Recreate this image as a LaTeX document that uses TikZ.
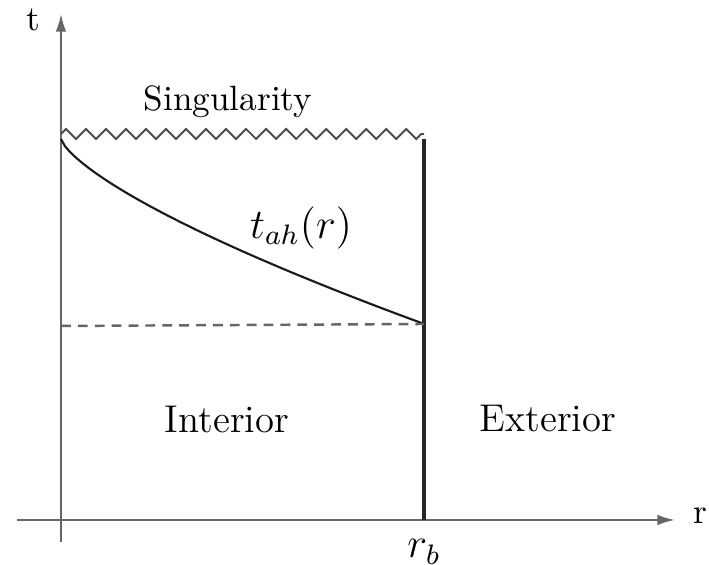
\documentclass[tikz,border=0pt]{standalone}
\usepackage{tikz}
\usetikzlibrary{arrows.meta,decorations.pathmorphing}

\begin{document}
\begin{tikzpicture}[
    x=0.01cm, y=-0.01cm,
    axis/.style={draw=black!60, line width=0.6pt, -{Latex[length=5pt,width=3pt]}},
    wall/.style={draw=black!85, line width=0.9pt},
    sing/.style={draw=black!70, line width=0.55pt, decorate, decoration={zigzag, segment length=0.2cm, amplitude=0.05cm}},
    ahcurve/.style={draw=black!90, line width=0.6pt},
    level/.style={draw=black!60, line width=0.7pt, dash pattern=on 2.8pt off 2pt},
    lbl/.style={font=\normalsize, inner sep=0pt}
]
    \useasboundingbox (0,0) rectangle (709,565);

    \coordinate (o) at (61,520);
    \coordinate (ttop) at (61,14);
    \coordinate (tbot) at (61,542);
    \coordinate (rleft) at (17,520);
    \coordinate (rright) at (675,520);
    \coordinate (sl) at (61,134);
    \coordinate (sr) at (424,134);
    \coordinate (wtop) at (424,139);
    \coordinate (wbot) at (424,520);
    \coordinate (hb) at (424,324);
    \coordinate (dl) at (61,326);

    \draw[axis] (tbot) -- (ttop);
    \draw[axis] (rleft) -- (rright);
    \draw[sing] (sl) -- (sr);
    \draw[wall] (wtop) -- (wbot);
    \draw[ahcurve] (61,139) -- plot[domain=0.01:363, samples=90] ({61+\x},{139+2.654*\x^0.72}) -- (hb);
    \draw[level] (dl) -- (hb);

    \node[lbl] (tlabel) at (33,20) {t};
    \node[lbl] (rlabel) at (700,516) {r};
    \node[lbl] (singlabel) at (228,102) {Singularity};
    \node[lbl, font=\large] (tahlabel) at (301,228) {$t_{ah}(r)$};
    \node[lbl, font=\fontsize{11}{13}\selectfont] (inlabel) at (227,419) {Interior};
    \node[lbl, font=\fontsize{11}{13}\selectfont] (exlabel) at (548,419) {Exterior};
    \node[lbl, font=\large] (rblabel) at (424,552) {$r_b$};
\end{tikzpicture}
\end{document}
